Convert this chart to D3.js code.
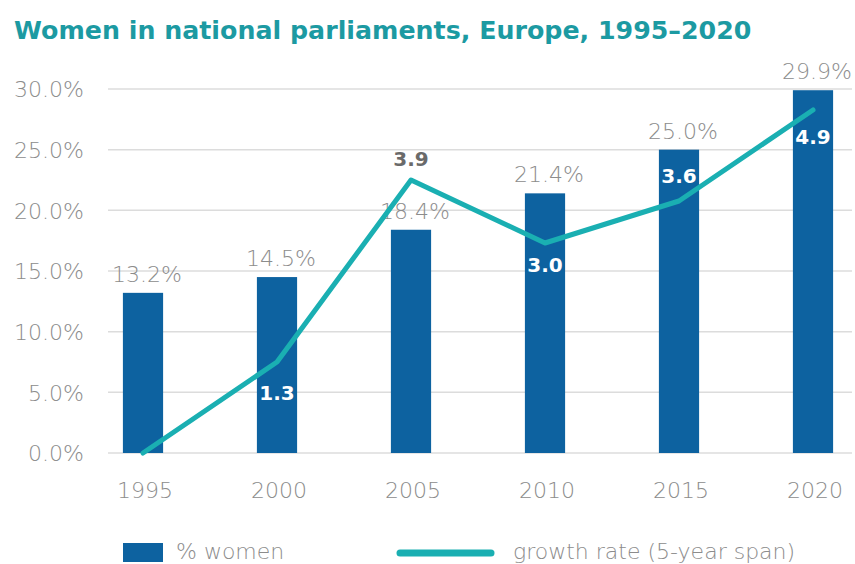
<!DOCTYPE html>
<html>
<head>
<meta charset="utf-8">
<script src="https://cdn.jsdelivr.net/npm/d3@7"></script>
<style>
  html, body { margin: 0; padding: 0; background: #fff; }
  svg { display: block; }
</style>
</head>
<body>
<svg id="chart" width="855" height="564"></svg>
<script>
// Women in national parliaments, Europe — share of seats and 5-year growth
const years = ["1995", "2000", "2005", "2010", "2015", "2020"];
const womenShare = [13.2, 14.5, 18.4, 21.4, 25.0, 29.9];
const growthRate = [0, 1.3, 3.9, 3.0, 3.6, 4.9];
const growthLabels = ["", "1.3", "3.9", "3.0", "3.6", "4.9"];
const yTicks = [0, 5, 10, 15, 20, 25, 30];

const svg = d3.select("#chart");
const plotTop = 89, plotBottom = 453, gridLeft = 108, gridRight = 852;

const font = "'DejaVu Sans', sans-serif";
const barColor = "#0d62a0";
const lineColor = "#1aafb2";
const grey = "#8c8c8c";

const x = d3.scaleBand().domain(years).range([76, 880]).paddingInner(0.7).paddingOuter(0.35);
const y = d3.scaleLinear().domain([0, 30]).range([plotBottom, plotTop]);
const y2 = d3.scaleLinear().domain([0, 5.2]).range([plotBottom, plotTop]);
const cx = d => x(d) + x.bandwidth() / 2;

// title
svg.append("text")
  .attr("x", 14).attr("y", 39)
  .attr("font-family", font)
  .attr("font-weight", "bold")
  .attr("font-size", 25.3)
  .attr("fill", "#1c9aa2")
  .text("Women in national parliaments, Europe, 1995\u20132020");

// gridlines
svg.append("g").selectAll("line").data(yTicks).join("line")
  .attr("x1", gridLeft).attr("x2", gridRight)
  .attr("y1", d => y(d)).attr("y2", d => y(d))
  .attr("stroke", "#dcdcdc").attr("stroke-width", 1.5);

// y axis labels
const yAxis = d3.axisLeft(y).tickValues(yTicks).tickSize(0).tickPadding(0)
  .tickFormat(d => d3.format(".1f")(d) + "%");
svg.append("g").attr("transform", "translate(84,0)").call(yAxis)
  .call(g => g.select(".domain").remove())
  .selectAll("text")
  .attr("font-family", font).attr("font-weight", 200)
  .attr("font-size", 22).attr("fill", grey).attr("dy", "0.35em");

// x axis labels
const xAxis = d3.axisBottom(x).tickSize(0).tickPadding(0);
svg.append("g").attr("transform", `translate(2,${plotBottom + 45})`).call(xAxis)
  .call(g => g.select(".domain").remove())
  .selectAll("text")
  .attr("font-family", font).attr("font-weight", 200)
  .attr("font-size", 22).attr("fill", grey).attr("dy", 0);

// bars
svg.append("g").selectAll("rect").data(years).join("rect")
  .attr("x", d => x(d)).attr("width", x.bandwidth())
  .attr("y", (d, i) => y(womenShare[i]))
  .attr("height", (d, i) => plotBottom - y(womenShare[i]))
  .attr("fill", barColor);

// bar value labels
svg.append("g").selectAll("text").data(years).join("text")
  .attr("x", d => cx(d) + 4)
  .attr("y", (d, i) => y(womenShare[i]) - 11)
  .attr("text-anchor", "middle")
  .attr("font-family", font).attr("font-weight", 200)
  .attr("font-size", 22).attr("fill", grey)
  .text((d, i) => d3.format(".1f")(womenShare[i]) + "%");

// growth rate line
const line = d3.line().x(d => cx(d)).y((d, i) => y2(growthRate[i]));
svg.append("path").datum(years)
  .attr("d", (d) => line(d))
  .attr("fill", "none").attr("stroke", lineColor)
  .attr("stroke-width", 5).attr("stroke-linejoin", "round").attr("stroke-linecap", "round");

// growth labels: inside the bar, or above the line where it clears the bar
const labelDy = [0, 31, -21, 22, -25, 27];
const labelInside = [true, true, false, true, true, true];
svg.append("g").selectAll("text").data(years).join("text")
  .attr("x", d => cx(d))
  .attr("y", (d, i) => y2(growthRate[i]) + labelDy[i])
  .attr("dy", "0.36em")
  .attr("text-anchor", "middle")
  .attr("font-family", font).attr("font-weight", "bold")
  .attr("font-size", 20)
  .attr("fill", (d, i) => labelInside[i] ? "#ffffff" : "#6a6a6a")
  .text((d, i) => growthLabels[i]);

// legend
const lg = svg.append("g");
lg.append("rect").attr("x", 123).attr("y", 543).attr("width", 40).attr("height", 19).attr("fill", barColor);
lg.append("text").attr("x", 176).attr("y", 559)
  .attr("font-family", font).attr("font-weight", 200).attr("font-size", 22).attr("fill", grey)
  .text("% women");
lg.append("line").attr("x1", 400).attr("x2", 491).attr("y1", 553).attr("y2", 553)
  .attr("stroke", lineColor).attr("stroke-width", 7).attr("stroke-linecap", "round");
lg.append("text").attr("x", 513).attr("y", 559)
  .attr("font-family", font).attr("font-weight", 200).attr("font-size", 22).attr("fill", grey)
  .text("growth rate (5-year span)");
</script>
</body>
</html>
